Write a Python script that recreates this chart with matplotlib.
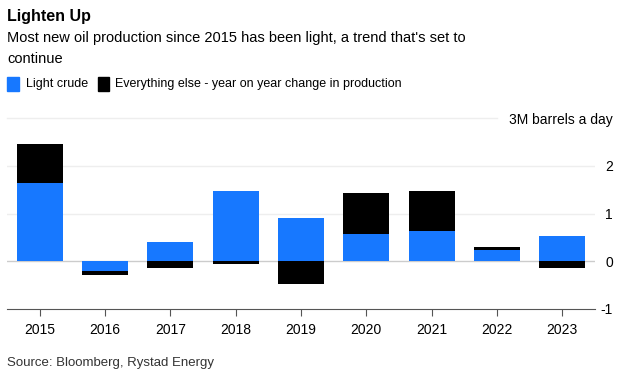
import numpy as np
import matplotlib.pyplot as plt

plt.rcParams['font.family'] = ['Liberation Sans', 'DejaVu Sans']

# data (million barrels a day, year on year change)
years = ['2015', '2016', '2017', '2018', '2019', '2020', '2021', '2022', '2023']
light = [1.64, -0.21, 0.41, 1.47, 0.90, 0.57, 0.63, 0.23, 0.54]
other = [0.83, -0.08, -0.14, -0.06, -0.47, 0.87, 0.84, 0.06, -0.14]
yticks = [-1, 0, 1, 2, 3]
ylabels = ['-1', '0', '1', '2', '3M barrels a day']

blue = '#1778ff'

fig = plt.figure(figsize=(6.28, 3.81), dpi=100)
ax = fig.add_axes([7/628, 1-309/381, 588/628, (309-118.3)/381])

x = np.arange(len(years))
light = np.array(light)
other = np.array(other)
# stack "other" on top of light when same sign, otherwise start at zero
base = np.where(np.sign(other) == np.sign(light), light, 0)
ax.bar(x, light, width=0.7, color=blue, zorder=3)
ax.bar(x, other, width=0.7, bottom=base, color='black', zorder=3)

ax.set_xlim(-0.5, len(years) - 0.5)
ax.set_ylim(-1, 3)

# gridlines
for t in [1, 2]:
    ax.axhline(t, color='#eeeeee', lw=1, zorder=1)
ax.axhline(3, xmax=(497-7)/588, color='#eeeeee', lw=1, zorder=1, clip_on=False)
ax.axhline(0, color='#cccccc', lw=1, zorder=2)

for s in ['top', 'left', 'right']:
    ax.spines[s].set_visible(False)
ax.spines['bottom'].set_color('#555555')

ax.set_xticks(x)
ax.set_xticklabels(years, fontsize=10)
ax.tick_params(axis='x', length=5, color='#555555', pad=5)

ax.yaxis.tick_right()
ax.set_yticks(yticks)
ax.set_yticklabels(ylabels, fontsize=10)
ax.tick_params(axis='y', length=0, pad=13)
for lab in ax.get_yticklabels():
    lab.set_horizontalalignment('right')

fig.text(7/628, 1-16/381, 'Lighten Up', fontsize=11.5, fontweight='bold', va='center')
fig.text(7/628, 1-38/381, "Most new oil production since 2015 has been light, a trend that's set to",
         fontsize=10.5, va='center')
fig.text(7/628, 1-59/381, 'continue', fontsize=10.5, va='center')

# legend
fig.patches.append(plt.Rectangle((7/628, 1-91/381), 12/628, 14/381, color=blue,
                                 transform=fig.transFigure))
fig.text(26/628, 1-84/381, 'Light crude', fontsize=9, va='center')
fig.patches.append(plt.Rectangle((98/628, 1-91/381), 11/628, 14/381, color='black',
                                 transform=fig.transFigure))
fig.text(115/628, 1-84/381, 'Everything else - year on year change in production', fontsize=9, va='center')

fig.text(7/628, 1-363/381, 'Source: Bloomberg, Rystad Energy', fontsize=9.5, color='#333333', va='center')

fig.savefig('out.png', dpi=100)
